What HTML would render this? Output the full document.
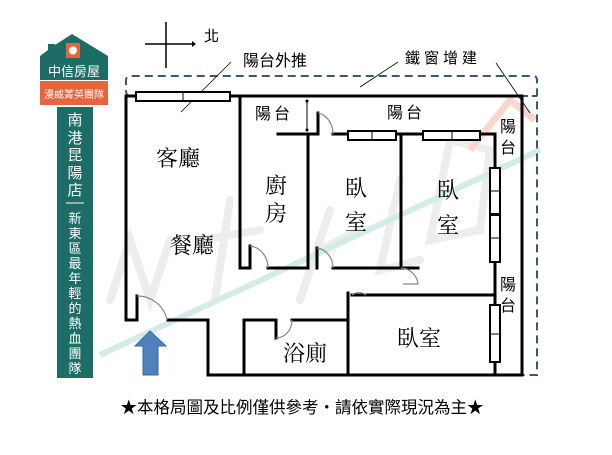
<!DOCTYPE html>
<html><head><meta charset="utf-8"><style>
html,body{margin:0;padding:0;background:#fff;}
svg{display:block;font-family:"Noto Serif CJK SC","Liberation Serif",serif;}
.s{font-family:"Liberation Sans","Noto Sans CJK TC",sans-serif;}
</style></head><body>
<svg width="612" height="455" viewBox="0 0 612 455" xmlns="http://www.w3.org/2000/svg">
<rect width="612" height="455" fill="#fff"/>
<!-- watermark -->
<g stroke="#ededed" stroke-width="8" fill="none" stroke-linecap="round">
<path d="M110 300 L130 240 L150 300 L170 240"/><path d="M230 200 L215 300 M200 240 L260 230"/>
<path d="M330 210 L300 300 M320 250 L360 230"/><path d="M400 180 L380 270 L420 260"/>
<path d="M450 140 L430 240 L480 230 L490 150 Z"/>
</g>
<path d="M100 355 L540 150" stroke="#d3ece9" stroke-width="6"/>
<path d="M470 150 L510 100 L535 120" stroke="#f6d8cf" stroke-width="7" fill="none"/>
<!-- logo -->
<path d="M40 56 L48 50 L48 44 L55 44 L55 45 L72 34 L108 56 L108 80 L40 80 Z" fill="#1b6d65"/>
<rect x="66" y="43" width="14" height="15" fill="#e8643c"/>
<circle cx="73" cy="50.5" r="4" fill="#fff"/>
<text x="74" y="76" font-size="13" fill="#fff" text-anchor="middle" class="s">中信房屋</text>
<rect x="40" y="81" width="68" height="24" fill="#e8643c"/>
<text x="74" y="98" font-size="10" fill="#fff" text-anchor="middle" class="s">漫威菁英團隊</text>
<rect x="57" y="107" width="36" height="271" fill="#1b6d65"/>
<g fill="#fff" font-size="15" text-anchor="middle" class="s">
<text x="75" y="125">南</text><text x="75" y="143">港</text><text x="75" y="160">昆</text><text x="75" y="178">陽</text><text x="75" y="195">店</text>
</g>
<line x1="66" y1="203" x2="84" y2="203" stroke="#fff" stroke-width="1"/>
<g fill="#fff" font-size="13" text-anchor="middle" class="s">
<text x="75" y="223">新</text><text x="75" y="238">東</text><text x="75" y="253">區</text><text x="75" y="268">最</text><text x="75" y="283">年</text><text x="75" y="298">輕</text><text x="75" y="313">的</text><text x="75" y="328">熱</text><text x="75" y="343">血</text><text x="75" y="358">團</text><text x="75" y="373">隊</text>
</g>
<!-- north -->
<g stroke="#000" stroke-width="1.5"><line x1="166" y1="22" x2="166" y2="68"/><line x1="145" y1="44" x2="192" y2="44"/></g>
<path d="M192 41 L196 44 L192 47 Z"/>
<text x="204" y="41" font-size="15" class="s">北</text>
<!-- dashed -->
<path d="M130 96 Q126 96 126 90 L126 80 Q126 76 132 76 L533 76 Q537 76 537 80 L537 375 L522 375" fill="none" stroke="#3a5778" stroke-width="2" stroke-dasharray="8,5"/>
<line x1="522" y1="96" x2="537" y2="96" stroke="#3a5778" stroke-width="2" stroke-dasharray="6,4"/>
<!-- callouts -->
<line x1="231" y1="62" x2="181" y2="112" stroke="#000" stroke-width="0.8"/>
<line x1="398" y1="62" x2="360" y2="87" stroke="#000" stroke-width="0.8"/>
<line x1="496" y1="63" x2="530" y2="113" stroke="#000" stroke-width="0.8"/>
<text x="243" y="66" font-size="16" class="s">陽台外推</text>
<text x="405" y="63" font-size="15" class="s" letter-spacing="4">鐵窗增建</text>
<!-- walls -->
<g stroke="#000" stroke-width="3" fill="none" stroke-linecap="square">
<path d="M126 96 L522 96 L522 375 L208 375 L208 320 L168 320"/>
<path d="M137 320 L126 320 L126 96"/>
<path d="M137 320 L137 296"/>
<path d="M240 96 L240 268 L250 268 L250 246"/>
<path d="M268 268 L308 268 L308 134"/>
<path d="M278 134 L318 134 L318 113"/>
<path d="M333 134 L495 134 L495 300"/>
<path d="M317 268 L317 248"/>
<path d="M333 268 L418 268"/>
<path d="M401 134 L401 268"/>
<path d="M352 295 L495 295 L495 375"/>
<path d="M348 293 L348 375"/>
<path d="M244 375 L244 320 L276 320 L276 338"/>
<path d="M292 320 L346 320"/>
</g>
<!-- doors -->
<g stroke="#888" stroke-width="1.2" fill="none">
<path d="M137 296 A30 30 0 0 1 167 320"/>
<path d="M250 246 A20 22 0 0 1 268 268"/>
<path d="M317 248 A18 20 0 0 1 333 268"/>
<path d="M318 113 A18 21 0 0 1 333 134"/>
<path d="M401 268 A18 18 0 0 1 418 284 L403 284"/>
<path d="M352 295 A16 24 0 0 1 366 295"/>
<path d="M276 338 A16 18 0 0 0 292 320"/>
</g>
<!-- balcony arrow -->
<line x1="307" y1="101" x2="307" y2="130" stroke="#000" stroke-width="1"/>
<circle cx="307" cy="101" r="1.5"/><circle cx="307" cy="130" r="1.5"/>
<!-- windows -->
<g stroke="#000" stroke-width="2" fill="#fff">
<rect x="136" y="92" width="94" height="9"/>
<rect x="348" y="131" width="48" height="9"/>
<rect x="423" y="131" width="57" height="9"/>
<rect x="490" y="168" width="10" height="46"/>
<rect x="490" y="215" width="10" height="47"/>
<rect x="490" y="305" width="10" height="57"/>
</g>
<g stroke="#000" stroke-width="1">
<line x1="183" y1="92" x2="183" y2="101"/><line x1="372" y1="131" x2="372" y2="140"/><line x1="452" y1="131" x2="452" y2="140"/>
<line x1="490" y1="191" x2="500" y2="191"/><line x1="490" y1="238" x2="500" y2="238"/><line x1="490" y1="334" x2="500" y2="334"/>
</g>
<!-- arrow entrance -->
<path d="M150 331 L166 346 L158 346 L158 375 L143 375 L143 346 L135 346 Z" fill="#4f81bd" stroke="#3a6aa0" stroke-width="1"/>
<!-- labels -->
<g font-size="22" fill="#000">
<text x="156" y="166">客廳</text>
<text x="170" y="253">餐廳</text>
<text x="265" y="193">廚</text><text x="265" y="221">房</text>
<text x="345" y="196">臥</text><text x="345" y="230">室</text>
<text x="437" y="198">臥</text><text x="437" y="233">室</text>
<text x="397" y="346">臥室</text>
<text x="283" y="361">浴廁</text>
</g>
<g font-size="16" fill="#000" class="s">
<text x="255" y="119" letter-spacing="3">陽台</text>
<text x="387" y="118" letter-spacing="3">陽台</text>
<text x="500" y="132">陽</text><text x="500" y="153">台</text>
<text x="500" y="290">陽</text><text x="500" y="311">台</text>
</g>
<text x="302" y="413" font-size="16.5" text-anchor="middle" class="s">★本格局圖及比例僅供參考‧請依實際現況為主★</text>
</svg>
</body></html>
